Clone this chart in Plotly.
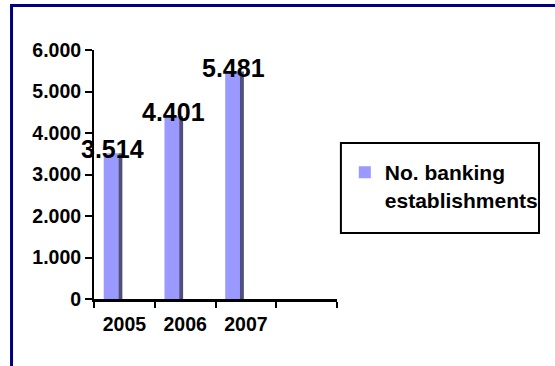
import plotly.graph_objects as go

years = ["2005", "2006", "2007"]
extra_slot = [" "]
establishments = [3514, 4401, 5481]
series_name = "No. banking<br>establishments"
y_ticks = [0, 1000, 2000, 3000, 4000, 5000, 6000]

FONT = "Liberation Sans, Arial, sans-serif"

L, R, T, B = 94, 212, 50, 67
W, H = 555, 366
pw, ph = W - L - R, H - T - B


def px_x(p):
    return (p - L) / pw


def px_y(p):
    return (H - B - p) / ph


fig = go.Figure()
fig.add_trace(go.Bar(
    x=years, y=establishments, name=series_name,
    marker=dict(color="#9999FF", line=dict(width=0)),
    offset=-0.34, width=0.242, showlegend=True,
))
fig.add_trace(go.Bar(
    x=years, y=establishments, name="side",
    marker=dict(color="#505080", line=dict(width=0)),
    offset=-0.098, width=0.065, showlegend=False, hoverinfo="skip",
))

for i, v in enumerate(establishments):
    fig.add_annotation(
        x=i, y=v, xref="x", yref="y",
        text=f"{v:,}".replace(",", "."), showarrow=False,
        xshift=-12, yshift=4, xanchor="center", yanchor="middle",
        font=dict(family=FONT, size=25, color="black", weight="bold"),
    )

shapes = [
    dict(type="rect", xref="paper", yref="paper",
         x0=px_x(9.5), y0=px_y(5.5), x1=3, y1=-3,
         line=dict(color="#000080", width=3), fillcolor="rgba(0,0,0,0)", layer="below"),
    dict(type="rect", xref="paper", yref="paper",
         x0=px_x(347), x1=px_x(550), y0=px_y(233), y1=px_y(143),
         line=dict(color="black", width=2), fillcolor="white", layer="below"),
]

fig.update_layout(
    width=W, height=H,
    margin=dict(l=L, r=R, t=T, b=B, pad=0),
    paper_bgcolor="white", plot_bgcolor="white",
    separators=",.",
    barmode="overlay",
    shapes=shapes,
    font=dict(family=FONT, size=19.5, color="black", weight="bold"),
    showlegend=True,
    legend=dict(
        x=px_x(351), y=px_y(152), xanchor="left", yanchor="top",
        bgcolor="rgba(0,0,0,0)", borderwidth=0, valign="top",
        font=dict(family=FONT, size=21, color="black", weight="bold"),
    ),
    xaxis=dict(
        type="category", categoryorder="array", categoryarray=years + extra_slot,
        range=[-0.5, 3.5], tickson="boundaries",
        showline=True, linecolor="black", linewidth=3,
        ticks="outside", ticklen=6, tickwidth=2, tickcolor="black",
        ticklabelstandoff=6,
        showgrid=False, zeroline=False, fixedrange=True,
    ),
    yaxis=dict(
        range=[0, 6000], tickvals=y_ticks, tickformat=",d",
        showline=True, linecolor="black", linewidth=2,
        ticks="outside", ticklen=7, tickwidth=2, tickcolor="black",
        showgrid=False, zeroline=False, fixedrange=True,
    ),
)

fig.write_html("out.html")
